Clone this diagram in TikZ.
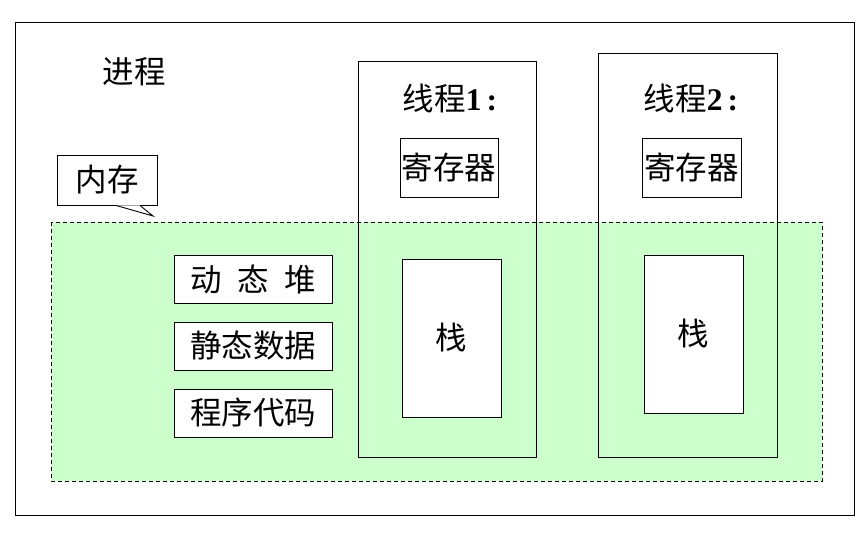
\documentclass[tikz,border=0pt]{standalone}
\usepackage{fontspec}
\newfontfamily\cjk{Noto Sans CJK SC}
\newfontfamily\lat{Liberation Serif}
\usetikzlibrary{positioning}
\definecolor{MemGreen}{RGB}{204,255,204}

\begin{document}
\begin{tikzpicture}[x=1pt,y=-1pt,
frame/.style={draw=black,line width=0.9pt},
box/.style={rectangle,draw=black,line width=0.9pt,fill=white,inner sep=0pt,
font=\cjk\fontsize{31.5}{33}\selectfont},
seg/.style={box,minimum width=158pt,minimum height=48pt},
thread/.style={rectangle,draw=black,line width=0.9pt,inner sep=0pt},
title/.style={inner sep=0pt,font=\fontsize{31.5}{33}\selectfont}
]
\useasboundingbox (0,0) rectangle (863,534);
\draw[frame] (15,22) rectangle (854,515);
\node[title,font=\cjk\fontsize{31.5}{33}\selectfont] (proc) at (134,72) {进程};

% memory area
\draw[line width=0.8pt,dash pattern=on 4pt off 3pt,fill=MemGreen] (51,222) rectangle (822,481);
\node[box,minimum width=100pt,minimum height=50pt] (mem) at (107,180) {内存};
\coordinate (tip) at (153,216);
\draw[line width=0.9pt,fill=white] ([xshift=9pt]mem.south) -- (tip) -- ([xshift=33pt]mem.south);

% segments
\node[seg] (heap) at (253,279) {动\hspace{0.5em}态\hspace{0.5em}堆};
\node[seg] (data) at (253,346) {静态数据};
\node[seg] (code) at (253,413) {程序代码};

% threads
\node[thread,minimum width=178pt,minimum height=396pt] (t1) at (447,259) {};
\node[title] (t1name) at (450,98) {\cjk 线程{\lat\bfseries 1\,:}};
\node[box,minimum width=98pt,minimum height=59pt] (reg1) at (449,167.5) {寄存器};
\node[box,minimum width=99pt,minimum height=158pt] (stack1) at (451.5,338) {栈};

\node[thread,minimum width=179pt,minimum height=404pt] (t2) at (687.5,255) {};
\node[title] (t2name) at (691,98) {\cjk 线程{\lat\bfseries 2\,:}};
\node[box,minimum width=99pt,minimum height=59pt] (reg2) at (691.5,167.5) {寄存器};
\node[box,minimum width=99pt,minimum height=158pt] (stack2) at (693.5,334) {栈};
\end{tikzpicture}
\end{document}
